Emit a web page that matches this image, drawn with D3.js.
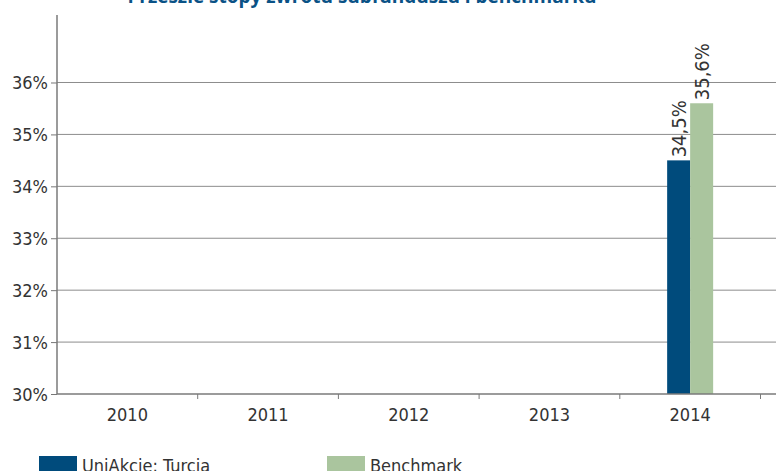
<!DOCTYPE html>
<html>
<head>
<meta charset="utf-8">
<script src="https://cdn.jsdelivr.net/npm/d3@7"></script>
<style>
  body { margin: 0; background: #fff; }
  svg { display: block; font-family: "DejaVu Sans Condensed", "DejaVu Sans", sans-serif; }
</style>
</head>
<body>
<svg id="chart" width="776" height="471"></svg>
<script>
// chart data
var years = ['2010', '2011', '2012', '2013', '2014'];
var fundValues = [null, null, null, null, 34.5];
var benchValues = [null, null, null, null, 35.6];
var seriesNames = ['UniAkcje: Turcja', 'Benchmark'];
var yTicks = [30, 31, 32, 33, 34, 35, 36];

var colors = ['#004b7c', '#aac59e'];
var svg = d3.select('#chart');
var font = '"DejaVu Sans Condensed", "DejaVu Sans", sans-serif';

var x = d3.scaleBand().domain(years).range([57, 760.5]);
var y = d3.scaleLinear().domain([30, 37.3]).range([394, 15]);

// title (cut off at the top edge)
svg.append('text')
  .attr('x', 362).attr('y', 3)
  .attr('text-anchor', 'middle')
  .attr('fill', '#0a5286')
  .style('font-family', '"Open Sans", sans-serif')
  .style('font-weight', 'bold')
  .style('font-size', '19px')
  .text('Przeszłe stopy zwrotu subfunduszu i benchmarku');

// gridlines
svg.append('g').selectAll('line').data(yTicks.slice(1)).join('line')
  .attr('x1', 57).attr('x2', 776)
  .attr('y1', function (d) { return y(d); })
  .attr('y2', function (d) { return y(d); })
  .attr('stroke', '#8c8c8c').attr('stroke-width', 1);

// bars
var seriesData = [fundValues, benchValues];
var barW = 23;
seriesData.forEach(function (vals, si) {
  var pts = years.map(function (yr, i) { return { year: yr, v: vals[i] }; })
    .filter(function (d) { return d.v != null; });
  var g = svg.append('g');
  g.selectAll('rect').data(pts).join('rect')
    .attr('x', function (d) { return x(d.year) + x.bandwidth() / 2 - barW + si * barW; })
    .attr('y', function (d) { return y(d.v); })
    .attr('width', barW)
    .attr('height', function (d) { return y(30) - y(d.v); })
    .attr('fill', colors[si]);
  g.selectAll('text').data(pts).join('text')
    .attr('transform', function (d) {
      var cx = x(d.year) + x.bandwidth() / 2 - barW / 2 + si * barW;
      return 'translate(' + (cx + 7) + ',' + (y(d.v) - 3) + ') rotate(-90)';
    })
    .attr('fill', '#333')
    .style('font-family', font)
    .style('font-size', '20px')
    .text(function (d) { return d3.format('.1f')(d.v).replace('.', ',') + '%'; });
});

// y axis
var yAxis = svg.append('g').attr('transform', 'translate(57,0)')
  .call(d3.axisLeft(y).tickValues(yTicks).tickSize(6).tickSizeOuter(0)
    .tickFormat(function (d) { return d + '%'; }));
yAxis.select('.domain').remove();
yAxis.selectAll('line').attr('stroke', '#777');
yAxis.selectAll('text').attr('fill', '#333').style('font-size', '18px')
  .style('font-family', font).attr('x', -9).attr('dy', '0.35em');
svg.append('line').attr('x1', 57).attr('x2', 57).attr('y1', 15).attr('y2', 394)
  .attr('stroke', '#7a7a7a').attr('stroke-width', 1.5);

// x axis
var xAxis = svg.append('g').attr('transform', 'translate(0,394)')
  .call(d3.axisBottom(x).tickSize(0).tickSizeOuter(0));
xAxis.select('.domain').remove();
xAxis.selectAll('text').attr('fill', '#333').attr('dy', 0).attr('y', 27)
  .style('font-size', '18px').style('font-family', font);
svg.append('line').attr('x1', 57).attr('x2', 776).attr('y1', 394).attr('y2', 394)
  .attr('stroke', '#7a7a7a').attr('stroke-width', 1.5);
svg.append('g').selectAll('line').data(years).join('line')
  .attr('x1', function (d) { return x(d) + x.bandwidth(); })
  .attr('x2', function (d) { return x(d) + x.bandwidth(); })
  .attr('y1', 394).attr('y2', 399)
  .attr('stroke', '#7a7a7a');

// legend
var legendX = [39, 327];
var legend = svg.append('g').selectAll('g').data(seriesNames).join('g')
  .attr('transform', function (d, i) { return 'translate(' + legendX[i] + ',456)'; });
legend.append('rect').attr('width', 38).attr('height', 16)
  .attr('fill', function (d, i) { return colors[i]; });
legend.append('text').attr('x', 43).attr('y', 16)
  .attr('fill', '#333').style('font-size', '18px').style('font-family', font)
  .text(function (d) { return d; });
</script>
</body>
</html>
